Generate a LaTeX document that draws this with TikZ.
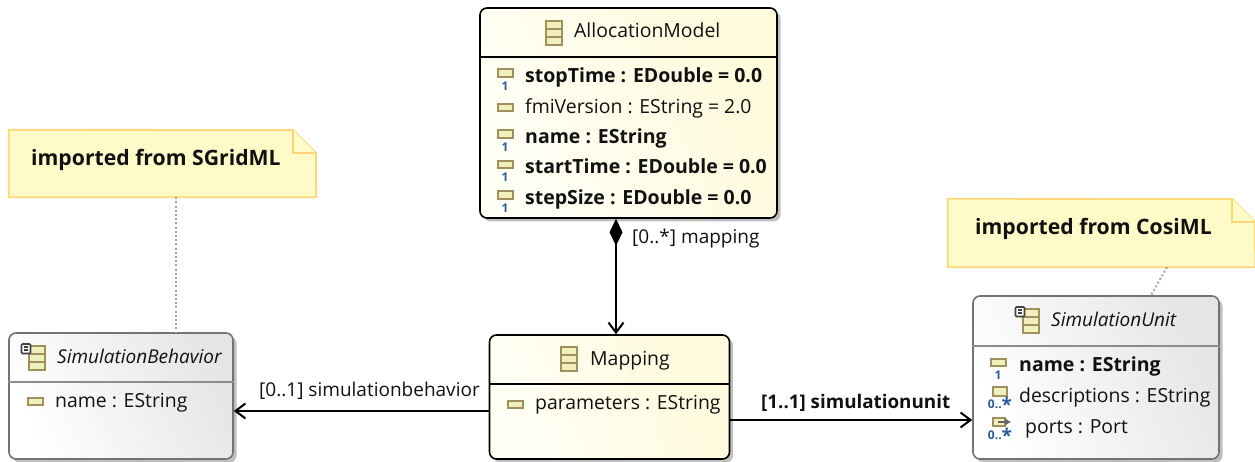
\documentclass[tikz,border=0pt]{standalone}
\usepackage{fontspec}
\setmainfont{Open Sans}
\usetikzlibrary{arrows.meta,shadows}
\definecolor{ink}{HTML}{111111}
\definecolor{iconline}{HTML}{A0905E}
\definecolor{iconfill}{HTML}{F1EFBC}
\definecolor{iconblue}{HTML}{2A5C9C}
\definecolor{notefill}{HTML}{FFFBC9}
\definecolor{noteline}{HTML}{FFD676}
\definecolor{boxyellow}{HTML}{FFFBDC}
\definecolor{boxstart}{HTML}{FFFFF6}
\tikzset{
  boxshadow/.style={drop shadow={shadow xshift=3.5pt,shadow yshift=-3.5pt,fill=black,opacity=.25}},
  yellowbox/.style={draw=black,line width=1.6pt,rounded corners=7pt,inner sep=0pt,boxshadow,
     left color=boxstart,right color=boxyellow,shading angle=115},
  graybox/.style={draw=black!55,line width=1.6pt,rounded corners=7pt,inner sep=0pt,boxshadow,
     left color=white,right color=black!10,shading angle=115},
  rowtext/.style={anchor=base west,inner sep=0pt,yshift=-0.8pt,text=ink,font=\fontsize{19.4}{23}\selectfont},
  boldtext/.style={rowtext,font=\fontsize{19.5}{23}\selectfont\bfseries},
  italtext/.style={rowtext,font=\fontsize{19}{23}\selectfont\itshape},
  labeltext/.style={rowtext,font=\fontsize{19}{23}\selectfont},
  labelbold/.style={rowtext,font=\fontsize{18.8}{23}\selectfont\bfseries},
  notetext/.style={rowtext,font=\fontsize{21.2}{25}\selectfont\bfseries},
  notebox/.style={inner sep=0pt},
  noteframe/.style={draw=noteline,fill=notefill,line width=1.8pt},
  link/.style={draw=black,line width=2pt},
  dotlink/.style={draw=black!35,line width=2pt,dash pattern=on 2pt off 2.2pt},
  openhead/.style={-{Straight Barb[length=10pt,width=15pt,line width=2pt]}},
  iconrect/.style={draw=iconline,fill=iconfill,line width=2pt},
  iconnum/.style={inner sep=0pt,text=iconblue,font=\fontsize{12}{13}\selectfont\bfseries},
  iconmany/.style={inner sep=0pt,text=iconblue,font=\fontsize{12}{13}\selectfont\bfseries},
  attr/.pic={\draw[iconrect] (-7.5,-3.5) rectangle (7.5,3.5);},
  attrone/.pic={\draw[iconrect] (-7.5,-4.5) rectangle (7.5,3);
     \node[iconnum] (-one) at (0,12) {1};},
  attrmany/.pic={\draw[iconrect] (-7,-7) rectangle (7,2);
     \node[iconmany] (-many) at (0,10.5) {0..\raisebox{-3pt}{\fontsize{19}{19}\selectfont *}};},
  refmany/.pic={\draw[iconrect] (-7,-7) rectangle (5,1);
     \draw[-{Latex[length=6pt,width=8pt]},black!60,line width=1.6pt] (-2,-3) -- (11,-3);
     \node[iconmany] (-many) at (0,10.5) {0..\raisebox{-3pt}{\fontsize{19}{19}\selectfont *}};},
  classicon/.pic={\draw[iconrect] (-8,-12) rectangle (8,12);
     \draw[iconline,line width=1.5pt] (-8,-4) -- (8,-4) (-8,4) -- (8,4);},
  abstracticon/.pic={\draw[iconrect] (-8,-12) rectangle (8,12);
     \draw[iconline,line width=1.5pt] (-8,-4) -- (8,-4) (-8,4) -- (8,4);
     \draw[black!75,fill=white,line width=1.6pt,rounded corners=1pt] (-15.5,-14) rectangle (-6.5,-4.5);
     \draw[black!75,line width=1.2pt] (-13,-11) -- (-9,-11) (-13,-8) -- (-9,-8);},
}
\begin{document}
\begin{tikzpicture}[x=1pt,y=-1pt]
\useasboundingbox (0,0) rectangle (1255,462);

% notes
\node[notebox,minimum width=307pt,minimum height=67pt] (noteA) at (162.5,163.5) {};
\draw[noteframe] (noteA.south west) -- (noteA.north west) -- (293,130) -- (316,153) -- (noteA.south east) -- cycle;
\draw[noteframe] (293,130) -- (293,153) -- (316,153);
\node[notetext] (noteAtext) at (31,165) {imported from SGridML};

\node[notebox,minimum width=307pt,minimum height=68pt] (noteB) at (1101.5,233) {};
\draw[noteframe] (noteB.south west) -- (noteB.north west) -- (1232,199) -- (1255,222) -- (noteB.south east) -- cycle;
\draw[noteframe] (1232,199) -- (1232,222) -- (1255,222);
\node[notetext] (noteBtext) at (975,234) {imported from CosiML};

% class boxes
\node[yellowbox,minimum width=297pt,minimum height=210pt] (alloc) at (628.5,113) {};
\node[yellowbox,minimum width=240pt,minimum height=124pt] (map) at (609.5,397) {};
\node[graybox,minimum width=224pt,minimum height=126pt] (beh) at (121,396) {};
\node[graybox,minimum width=246pt,minimum height=163pt] (unit) at (1096,377.5) {};

% compartment separators
\draw[black,line width=1.3pt] (alloc.west |- 0,57) -- (alloc.east |- 0,57);
\draw[black,line width=1.3pt] (map.west |- 0,384) -- (map.east |- 0,384);
\draw[black!45,line width=1.3pt] (beh.west |- 0,382) -- (beh.east |- 0,382);
\draw[black!45,line width=1.3pt] (unit.west |- 0,346) -- (unit.east |- 0,346);

% AllocationModel
\pic at (553.5,33) {classicon};
\node[rowtext] (t1) at (574,37) {AllocationModel};
\pic (i1) at (505,74) {attrone};
\node[boldtext] (a1) at (525,82) {stopTime : EDouble = 0.0};
\pic at (505,107.5) {attr};
\node[rowtext] (a2) at (525,113) {fmiVersion : EString = 2.0};
\pic (i3) at (505,135) {attrone};
\node[boldtext] (a3) at (525,143) {name : EString};
\pic (i4) at (505,165.5) {attrone};
\node[boldtext] (a4) at (525,173) {startTime : EDouble = 0.0};
\pic (i5) at (505,196) {attrone};
\node[boldtext] (a5) at (525,204) {stepSize : EDouble = 0.0};

% Mapping
\pic at (569,359) {classicon};
\node[rowtext] (t2) at (590,365) {Mapping};
\pic at (515,404) {attr};
\node[rowtext] (m1) at (535,409) {parameters : EString};

% SimulationBehavior
\pic at (37,358) {abstracticon};
\node[italtext] (t3) at (57,363) {SimulationBehavior};
\pic at (35,401) {attr};
\node[rowtext] (b1) at (55,407) {name : EString};

% SimulationUnit
\pic at (1031,321) {abstracticon};
\node[italtext] (t4) at (1051,326) {SimulationUnit};
\pic (i6) at (998,363) {attrone};
\node[boldtext] (u1) at (1019,371) {name : EString};
\pic (i7) at (1000,394) {attrmany};
\node[rowtext] (u2) at (1019,402) {descriptions : EString};
\pic (i8) at (1000,425) {refmany};
\node[rowtext] (u3) at (1025,433) {ports : Port};

% connector attachment points
\coordinate (down) at (616,0);
\coordinate (left) at (0,411);
\coordinate (right) at (0,420);
\coordinate (noteAx) at (176,0);

% connectors
\draw[link,{Diamond[length=27pt,width=13pt,fill=black]}-{Straight Barb[length=10pt,width=15pt,line width=2pt]}]
  (alloc.south -| down) -- (map.north -| down);
\draw[link,openhead] (map.west |- left) -- (beh.east |- left);
\draw[link,openhead] (map.east |- right) -- (unit.west |- right);
\draw[dotlink] (noteA.south -| noteAx) -- (beh.north -| noteAx);
\draw[dotlink] (noteB.south -| 1167,0) -- (unit.north -| 1151,0);

% connector labels
\node[labeltext] (l1) at (632,243) {[0..*] mapping};
\node[labeltext] (l2) at (259,396) {[0..1] simulationbehavior};
\node[labelbold] (l3) at (761,408) {[1..1] simulationunit};
\end{tikzpicture}
\end{document}
